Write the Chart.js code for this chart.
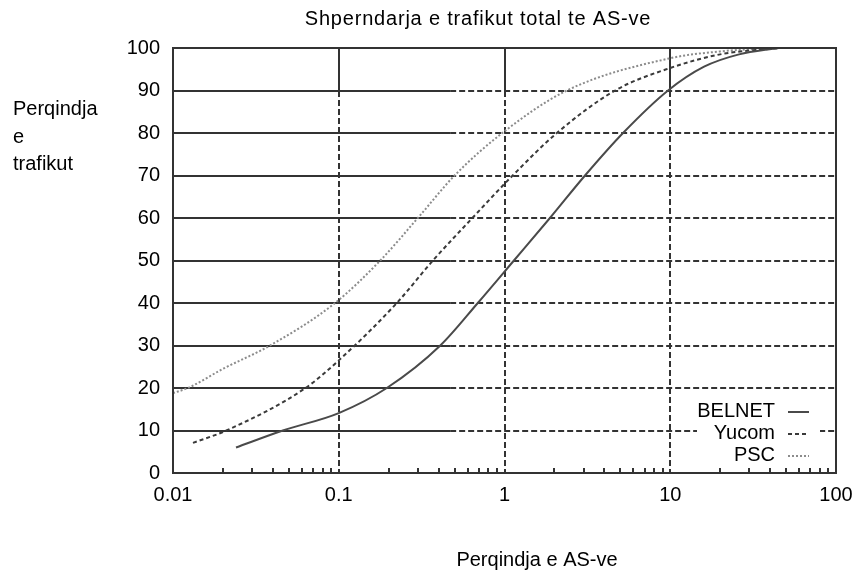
<!DOCTYPE html>
<html>
<head>
<meta charset="utf-8">
<script src="https://cdn.jsdelivr.net/npm/chart.js@4"></script>
<style>
  html, body { margin: 0; padding: 0; background: #fff; }
  #wrap { width: 857px; height: 573px; }
</style>
</head>
<body>
<div id="wrap"><canvas id="chart" width="857" height="573"></canvas></div>
<script>
// data (x = % of AS, log scale; y = % of traffic)
const seriesNames = ['BELNET', 'Yucom', 'PSC'];
const belnetX = [0.024, 0.046, 0.1, 0.195, 0.41, 0.69, 1.14, 1.88, 3.06, 5.19, 9.7, 16, 26, 45];
const belnetY = [6, 10, 14.1, 20, 30, 40, 50, 60, 70, 80, 90, 95.6, 98.5, 100];
const yucomX = [0.0132, 0.021, 0.063, 0.1, 0.224, 0.37, 0.64, 1.12, 2.07, 4.65, 10, 20, 45];
const yucomY = [7.1, 10, 20, 26.5, 40, 50, 60, 70, 80, 90, 95.3, 98.5, 100];
const pscX = [0.01, 0.0123, 0.02, 0.0385, 0.095, 0.178, 0.3, 0.5, 0.97, 2.38, 10, 20, 40];
const pscY = [18.8, 20, 24.5, 30, 40, 50, 60, 70, 80, 90, 97.6, 99.2, 100];

const xTicks = [0.01, 0.1, 1, 10, 100];
const xTickLabels = ['0.01', '0.1', '1', '10', '100'];
const yTicks = [0, 10, 20, 30, 40, 50, 60, 70, 80, 90, 100];

const chartTitle = 'Shperndarja e trafikut total te AS-ve';
const xTitle = 'Perqindja e AS-ve';
const yTitleLines = ['Perqindja', 'e', 'trafikut'];

const FONT = '"Liberation Sans", Arial, sans-serif';
const INK = '#333';

function toPoints(xs, ys) {
  return xs.map((x, i) => ({ x, y: ys[i] }));
}

function line(ctx, x1, y1, x2, y2, dash) {
  ctx.setLineDash(dash || []);
  ctx.beginPath();
  ctx.moveTo(x1, y1);
  ctx.lineTo(x2, y2);
  ctx.stroke();
}

// grid, frame, minor ticks, legend and free text, gnuplot style
const framePlugin = {
  id: 'frame',
  beforeDatasetsDraw(chart) {
    const { ctx, chartArea: a, scales: { x, y } } = chart;
    const split = x.getPixelForValue(0.47);
    const y90 = Math.round(y.getPixelForValue(90));
    ctx.save();
    ctx.strokeStyle = INK;
    ctx.lineWidth = 2;
    yTicks.slice(1, -1).forEach((v) => {
      const py = Math.round(y.getPixelForValue(v));
      line(ctx, a.left, py, split, py);
      line(ctx, split, py, a.right, py, [6, 3]);
    });
    xTicks.slice(1, -1).forEach((v) => {
      const px = Math.round(x.getPixelForValue(v));
      line(ctx, px, a.top, px, y90);
      line(ctx, px, y90, px, a.bottom, [6, 3]);
    });
    ctx.restore();
  },
  afterDatasetsDraw(chart) {
    const { ctx, chartArea: a, scales: { x } } = chart;
    ctx.save();
    ctx.strokeStyle = INK;
    ctx.lineWidth = 2;
    ctx.setLineDash([]);
    ctx.strokeRect(a.left, a.top, a.right - a.left, a.bottom - a.top);

    // minor log ticks on the bottom axis
    xTicks.slice(0, -1).forEach((d) => {
      for (let m = 2; m <= 9; m++) {
        const px = Math.round(x.getPixelForValue(d * m));
        line(ctx, px, a.bottom, px, a.bottom - 5);
      }
    });

    // legend
    ctx.fillStyle = '#fff';
    ctx.fillRect(697, 400, 123, 66);
    ctx.font = '20px ' + FONT;
    ctx.textAlign = 'right';
    ctx.textBaseline = 'alphabetic';
    chart.data.datasets.forEach((ds, i) => {
      const base = 417 + i * 22;
      ctx.fillStyle = '#000';
      ctx.fillText(ds.label, 775, base);
      ctx.strokeStyle = ds.borderColor;
      ctx.lineWidth = ds.borderWidth;
      line(ctx, 788, base - 5, 809, base - 5, ds.borderDash);
    });

    // titles
    ctx.fillStyle = '#000';
    ctx.textAlign = 'center';
    ctx.font = '20px ' + FONT;
    ctx.letterSpacing = '0.8px';
    ctx.fillText(chartTitle, 478, 25);
    ctx.letterSpacing = '0px';
    ctx.fillText(xTitle, 537, 566);
    ctx.textAlign = 'left';
    yTitleLines.forEach((t, i) => ctx.fillText(t, 13, 115 + i * 27.5));
    ctx.restore();
  },
};

function renderChart() {
  const ctx = document.getElementById('chart');
  new Chart(ctx, {
    type: 'line',
    data: {
      datasets: [
        {
          label: seriesNames[0],
          data: toPoints(belnetX, belnetY),
          borderColor: '#4a4a4a',
          borderWidth: 2,
        },
        {
          label: seriesNames[1],
          data: toPoints(yucomX, yucomY),
          borderColor: '#3a3a3a',
          borderWidth: 2,
          borderDash: [4, 3],
        },
        {
          label: seriesNames[2],
          data: toPoints(pscX, pscY),
          borderColor: '#8c8c8c',
          borderWidth: 2,
          borderDash: [2, 2],
        },
      ],
    },
    options: {
      responsive: false,
      animation: false,
      devicePixelRatio: 1,
      elements: { point: { radius: 0 }, line: { cubicInterpolationMode: 'monotone' } },
      layout: { padding: { left: 0, top: 48, right: 21, bottom: 0 } },
      plugins: { legend: { display: false }, title: { display: false }, tooltip: { enabled: false } },
      scales: {
        x: {
          type: 'logarithmic',
          min: 0.01,
          max: 100,
          afterBuildTicks: (s) => { s.ticks = xTicks.map((v) => ({ value: v })); },
          afterFit: (s) => { s.height = 100; s.paddingLeft = 0; s.paddingRight = 0; },
          grid: { display: false, drawTicks: false },
          border: { display: false },
          ticks: {
            autoSkip: false,
            maxRotation: 0,
            padding: 10,
            color: '#000',
            font: { family: FONT, size: 20 },
            callback: (v, i) => xTickLabels[i],
          },
        },
        y: {
          min: 0,
          max: 100,
          afterBuildTicks: (s) => { s.ticks = yTicks.map((v) => ({ value: v })); },
          afterFit: (s) => { s.width = 173; },
          grid: { display: false, drawTicks: false },
          border: { display: false },
          ticks: {
            padding: 13,
            color: '#000',
            font: { family: FONT, size: 20 },
            callback: (v) => String(v),
          },
        },
      },
    },
    plugins: [framePlugin],
  });
}

document.addEventListener('DOMContentLoaded', renderChart);
</script>
</body>
</html>
